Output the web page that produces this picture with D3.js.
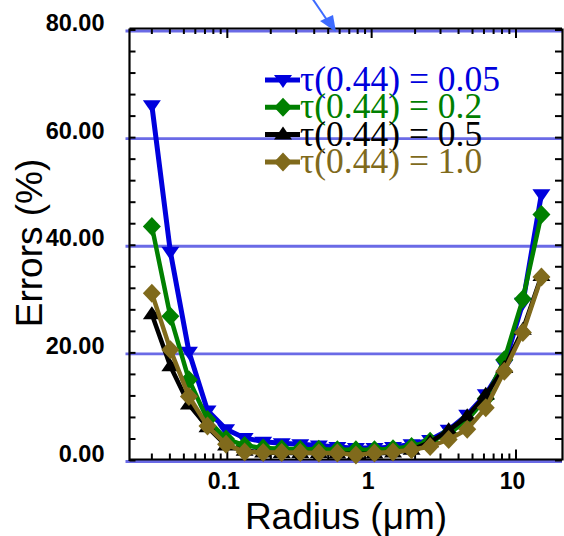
<!DOCTYPE html>
<html><head><meta charset="utf-8">
<script src="https://cdn.jsdelivr.net/npm/d3@7"></script>
<style>body{margin:0;background:#fff}svg{display:block}</style>
</head><body>
<svg id="c" width="564" height="536"></svg>
<script>
const radius = [0.030,0.0403,0.0542,0.0729,0.0980,0.1318,0.1772,0.2382,0.3202,0.4305,0.5787,0.7780,1.046,1.406,1.891,2.542,3.417,4.594,6.176,8.303,11.16,15.01];
const seriesNames = ["τ(0.44) = 0.05","τ(0.44) = 0.2","τ(0.44) = 0.5","τ(0.44) = 1.0"];
const blueVals  = [66.0,38.8,20.2,9.3,5.8,4.2,3.5,3.2,3.0,2.8,2.5,2.3,2.3,2.5,3.0,3.8,5.7,8.5,12.3,17.8,29.3,49.5];
const greenVals = [43.5,26.8,15.0,7.6,4.0,2.8,2.3,2.2,2.1,2.1,2.0,2.0,2.0,2.2,2.6,3.6,5.0,7.5,11.5,18.7,30.0,45.7];
const blackVals = [27.2,17.5,10.4,6.2,2.8,1.8,1.5,1.4,1.4,1.4,1.3,1.2,1.3,1.5,2.0,3.4,5.6,8.2,12.2,17.2,24.3,34.3];
const brownVals = [31.1,20.6,11.9,6.4,3.0,1.6,1.5,1.5,1.5,1.4,1.4,1.0,1.4,1.6,2.0,2.6,3.9,5.8,9.8,16.6,23.8,34.1];
const yTickVals = [0,20,40,60,80];
const yTickLabels = ["0.00","20.00","40.00","60.00","80.00"];
const xTickVals = [0.1,1,10];
const xTickLabels = ["0.1","1","10"];
const xTitle = "Radius (μm)";
const yTitle = "Errors (%)";

const colors = ["#0000dd","#008000","#000000","#806a1c"];
const markers = ["down","diamond","up","diamond"];
const series = [blueVals,greenVals,blackVals,brownVals];

const svg = d3.select("#c");
const L = 129.5, R = 562, T = 30, B = 460.5;
const x = d3.scaleLog().domain([0.021, 20.84]).range([L, R]);
const y = d3.scaleLinear().domain([0, 80]).range([B, T]);

function markerPath(type){
  if(type==="down") return "M-9,-5L9,-5L0,8Z";
  if(type==="up") return "M-9,5L9,5L0,-8Z";
  return "M0,-9.5L9,0L0,9.5L-9,0Z";
}

// grid lines
const grid = "#6a6ae6";
svg.append("g").selectAll("line").data(yTickVals).join("line")
  .attr("x1", L-4).attr("x2", R).attr("y1", d=>y(d)+1).attr("y2", d=>y(d)+1)
  .attr("stroke", grid).attr("stroke-width", 2.8);

// frame
const fr = svg.append("g").attr("stroke","#000").attr("stroke-width",2.2).attr("fill","none");
fr.append("line").attr("x1",L).attr("x2",L).attr("y1",T-1.5).attr("y2",B+0.5);
fr.append("line").attr("x1",L).attr("x2",R).attr("y1",B-1).attr("y2",B-1);
fr.append("line").attr("x1",L).attr("x2",R).attr("y1",T-1.5).attr("y2",T-1.5);
fr.append("line").attr("x1",R+0.5).attr("x2",R+0.5).attr("y1",T-1.5).attr("y2",B);

// y minor ticks
const yMinor = d3.range(0, 81, 4);
const tk = svg.append("g").attr("stroke","#000").attr("stroke-width",2);
yMinor.forEach(v=>{
  tk.append("line").attr("x1",L).attr("x2",L+6).attr("y1",y(v)).attr("y2",y(v));
  tk.append("line").attr("x1",R).attr("x2",R-7).attr("y1",y(v)).attr("y2",y(v));
});
// x ticks
const xMinor = [];
[0.01,0.1,1,10].forEach(dec=>{ for(let k=2;k<=9;k++){ const v=dec*k; if(v>0.0215 && v<19) xMinor.push(v);} });
xMinor.forEach(v=>{
  tk.append("line").attr("x1",x(v)).attr("x2",x(v)).attr("y1",B-1).attr("y2",B-7);
  tk.append("line").attr("x1",x(v)).attr("x2",x(v)).attr("y1",T-1.5).attr("y2",T+4);
});
xTickVals.forEach(v=>{
  tk.append("line").attr("x1",x(v)).attr("x2",x(v)).attr("y1",B-1).attr("y2",B-11);
  tk.append("line").attr("x1",x(v)).attr("x2",x(v)).attr("y1",T-1.5).attr("y2",T+8);
});

// axes labels via d3 axis (text only)
const yAxis = d3.axisLeft(y).tickValues(yTickVals).tickFormat((d,i)=>yTickLabels[i]).tickSize(0).tickPadding(0);
const gy = svg.append("g").attr("transform",`translate(${L-25},-7)`).call(yAxis);
gy.select(".domain").remove();
gy.selectAll("text").attr("font-family","Liberation Sans, Arial, sans-serif").attr("font-weight","bold").attr("font-size",23.5).attr("fill","#000");

const xAxis = d3.axisBottom(x).tickValues(xTickVals).tickFormat((d,i)=>xTickLabels[i]).tickSize(0).tickPadding(0);
const gx = svg.append("g").attr("transform",`translate(-4,${B+12})`).call(xAxis);
gx.select(".domain").remove();
gx.selectAll("text").attr("font-family","Liberation Sans, Arial, sans-serif").attr("font-weight","bold").attr("font-size",23).attr("fill","#000");

svg.append("text").attr("x",346).attr("y",529).attr("text-anchor","middle")
  .attr("font-family","Liberation Sans, Arial, sans-serif").attr("font-size",37).text(xTitle);
svg.append("text").attr("transform","translate(42,243) rotate(-90)").attr("text-anchor","middle")
  .attr("font-family","Liberation Sans, Arial, sans-serif").attr("font-size",37).text(yTitle);

// series
const line = d3.line().x((d,i)=>x(radius[i])).y(d=>y(d));
series.forEach((vals,si)=>{
  const g = svg.append("g");
  g.append("path").datum(vals).attr("d",line).attr("fill","none")
    .attr("stroke",colors[si]).attr("stroke-width",si===0?5:4.5).attr("stroke-linejoin","round");
  g.selectAll("path.m").data(vals).join("path").attr("class","m")
    .attr("transform",(d,i)=>`translate(${x(radius[i])},${y(d)})`)
    .attr("d",markerPath(markers[si])).attr("fill",colors[si]);
});

// legend
const lg = svg.append("g");
seriesNames.forEach((name,i)=>{
  const yy = 80 + i*27.3;
  lg.append("line").attr("x1",265).attr("x2",300).attr("y1",yy).attr("y2",yy)
    .attr("stroke",colors[i]).attr("stroke-width",5);
  lg.append("path").attr("transform",`translate(283,${yy})`).attr("d",markerPath(markers[i])).attr("fill",colors[i]);
  lg.append("text").attr("x",300).attr("y",yy+11).attr("font-family","Liberation Serif, Times New Roman, serif")
    .attr("font-size",35.5).attr("fill",colors[i]).text(name);
});

// arrow annotation
const ac = "#3d6bff";
svg.append("line").attr("x1",312).attr("y1",-2).attr("x2",327).attr("y2",20).attr("stroke",ac).attr("stroke-width",2);
svg.append("path").attr("d","M320,21L333,15L336,32Z").attr("fill",ac);
</script>
</body></html>
